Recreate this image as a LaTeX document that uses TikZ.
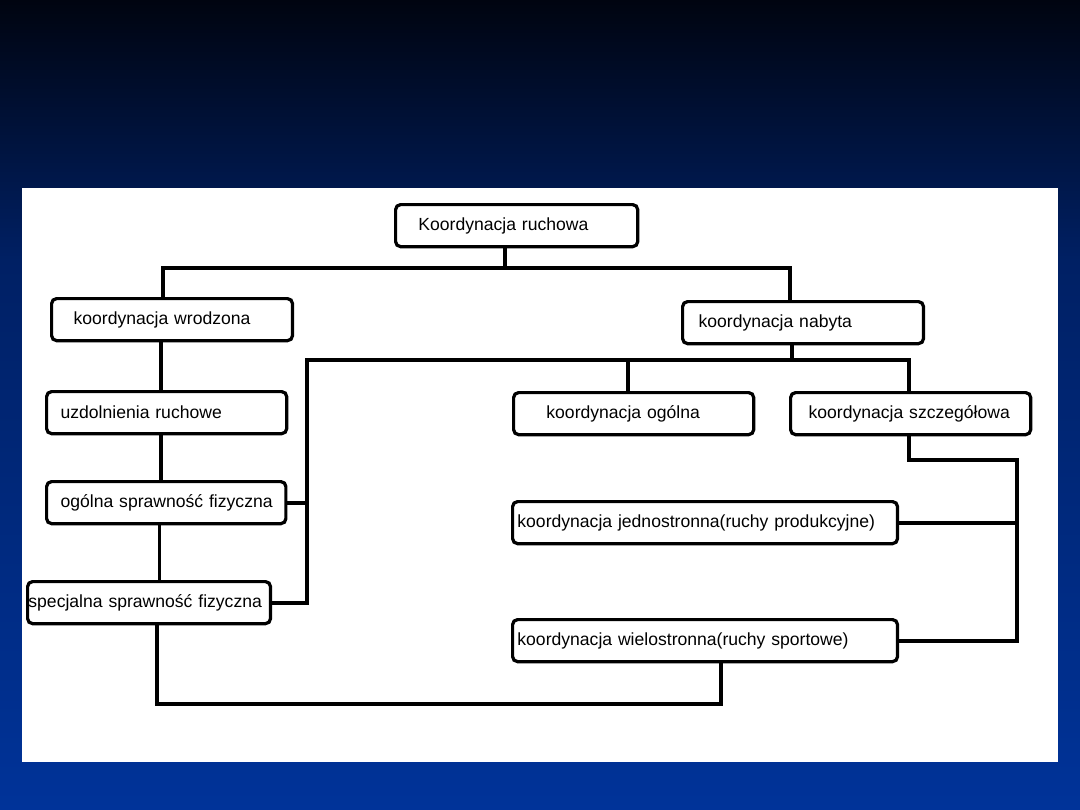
\documentclass[tikz,border=0pt]{standalone}
\usepackage{fontspec}
\setmainfont{Liberation Sans}
\usepackage{tikz}
\usetikzlibrary{calc}
\definecolor{slidetop}{RGB}{0,4,16}
\definecolor{slidemid}{RGB}{0,32,100}
\definecolor{slidebot}{RGB}{0,51,153}
\tikzset{
  kbox/.style={draw=black, line width=2.3pt, rounded corners=3.5pt, anchor=north west,
               minimum height=1.05cm, inner xsep=0pt, inner ysep=0pt, align=left,
               font=\fontsize{12.5}{15}\selectfont},
  kline/.style={line width=2.7pt, black},
}

\begin{document}
\begin{tikzpicture}[x=0.025cm, y=-0.025cm]
  \useasboundingbox (0,0) rectangle (1080,810);
  % slide background and white panel
  \shade[top color=slidetop, bottom color=slidemid] (0,0) rectangle (1080,260);
  \shade[top color=slidemid, bottom color=slidebot] (0,259) rectangle (1080,810);
  \fill[white] (22,188) rectangle (1058,762);

  % boxes
  \node[kbox, text width=6.05cm] (ruch) at (394,203) {\hspace*{0.57cm}Koordynacja ruchowa};
  \node[kbox, text width=6.02cm] (wrodz) at (50,297) {\hspace*{0.55cm}koordynacja wrodzona};
  \node[kbox, text width=6.02cm] (nab) at (681,300) {\hspace*{0.4cm}koordynacja nabyta};
  \node[kbox, text width=6.0cm] (uzd) at (45,390) {\hspace*{0.35cm}uzdolnienia ruchowe};
  \node[kbox, text width=5.98cm] (ogsp) at (45,480) {\hspace*{0.35cm}ogólna sprawność fizyczna};
  \node[kbox, text width=6.07cm] (spec) at (26,580) {\hspace*{0.02cm}specjalna sprawność fizyczna};
  \node[kbox, text width=6.0cm] (ogol) at (512,391) {\hspace*{0.82cm}koordynacja ogólna};
  \node[kbox, text width=6.0cm] (szcz) at (789,391) {\hspace*{0.45cm}koordynacja szczegółowa};
  \node[kbox, text width=9.62cm] (jedn) at (511,500) {\hspace*{0.12cm}koordynacja jednostronna(ruchy produkcyjne)};
  \node[kbox, text width=9.62cm] (wiel) at (511,618) {\hspace*{0.12cm}koordynacja wielostronna(ruchy sportowe)};

  % junction points
  \coordinate (j0) at (505,268);
  \coordinate (j1) at (163,268);
  \coordinate (j2) at (790,268);
  \coordinate (l1) at (161,0);
  \coordinate (m0) at (792,360);
  \coordinate (m1) at (307,360);
  \coordinate (m2) at (909,360);
  \coordinate (m3) at (628,360);
  \coordinate (r1) at (1017,460);
  \coordinate (b1) at (157,704);
  \coordinate (b2) at (721,704);

  % top level
  \draw[kline] (ruch.south -| j0) -- (j0);
  \draw[kline] (wrodz.north -| j1) |- (j2) -- (nab.north -| j2);

  % innate branch
  \draw[kline] (wrodz.south -| l1) -- (uzd.north -| l1);
  \draw[kline] (uzd.south -| l1) -- (ogsp.north -| l1);
  \draw[kline] ([xshift=-1pt]ogsp.south -| l1) -- ([xshift=-1pt]spec.north -| l1);

  % acquired branch
  \draw[kline] (nab.south -| m0) -- (m0);
  \draw[kline] (spec.east) -| (m1) -- (m2) -- (szcz.north -| m2);
  \draw[kline] (ogsp.east) -- (ogsp.east -| m1);
  \draw[kline] (m3) -- (ogol.north -| m3);

  % detailed coordination
  \draw[kline] (szcz.south -| m2) |- (r1) -- (r1 |- wiel.east) -- (wiel.east);
  \draw[kline] (jedn.east) -- (jedn.east -| r1);

  % bottom link
  \draw[kline] (spec.south -| b1) -- (b1) -- (b2) -- (wiel.south -| b2);
\end{tikzpicture}
\end{document}
